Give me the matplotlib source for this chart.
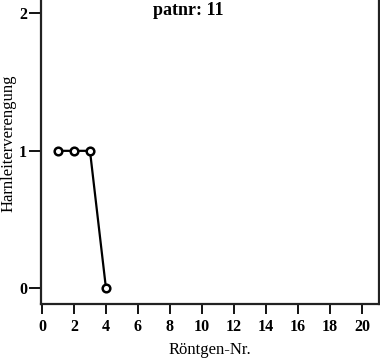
import matplotlib
matplotlib.use("Agg")
import matplotlib.pyplot as plt

# data
roentgen_nr = [1, 2, 3, 4]
harnleiter = [1, 1, 1, 0]
x_ticks = list(range(0, 21, 2))
y_ticks = [0, 1, 2]

plt.rcParams["font.family"] = ["Liberation Serif", "DejaVu Serif"]

fig = plt.figure(figsize=(3.8, 3.6), dpi=100)
ax = fig.add_axes([41 / 380, 1 - 304 / 360, 338 / 380, 304 / 360])

ax.plot(roentgen_nr, harnleiter, color="black", linewidth=1.6,
        marker="o", markersize=5.5, markerfacecolor="white",
        markeredgecolor="black", markeredgewidth=1.8)

ax.set_xlim(-0.06, 21.06)
ax.set_ylim(-0.114, 2.097)
ax.set_xticks(x_ticks)
ax.set_yticks(y_ticks)
ax.tick_params(axis="x", direction="out", length=7, width=1.3, pad=4,
               labelsize=11.5)
ax.tick_params(axis="y", direction="out", length=9, width=1.3, pad=1,
               labelsize=11.5)
for lab in ax.get_xticklabels() + ax.get_yticklabels():
    lab.set_fontweight("bold")

for side in ["left", "bottom", "right"]:
    ax.spines[side].set_linewidth(1.6)
    ax.spines[side].set_color("#222222")
ax.spines["top"].set_visible(False)

ax.set_xlabel("Röntgen-Nr.", fontsize=12, labelpad=5)
# y label placed by hand so it stays inside the figure
fig.text(9 / 380, 1 - 143 / 360, "Harnleiterverengung", rotation=90,
         ha="center", va="center", fontsize=12)
fig.text(188 / 380, 1 - 2 / 360, "patnr: 11", ha="center", va="top",
         fontsize=13, fontweight="bold")

fig.savefig("out.png", dpi=100)
